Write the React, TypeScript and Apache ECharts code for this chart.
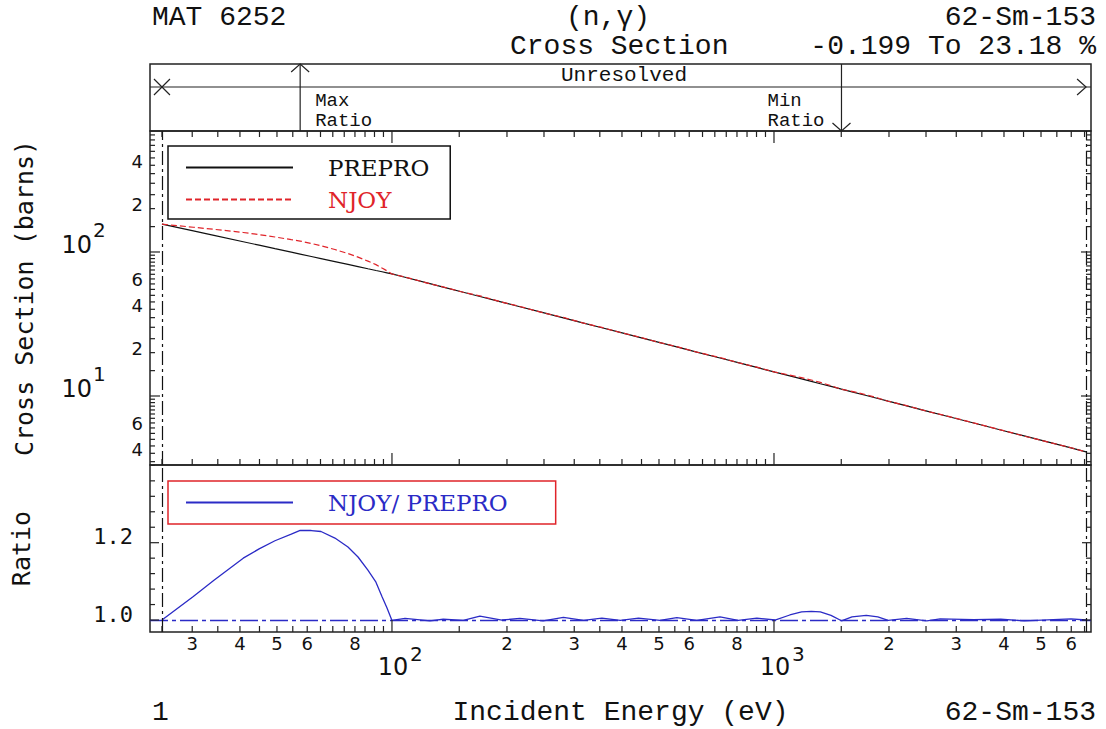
import React, { useEffect, useRef } from 'react';
import * as echarts from 'echarts';

// ---------------- data ----------------
const ENERGY_EV = [
  25, 30.2, 34.2, 40.8, 44.9, 49.4, 54.5, 57.5, 61.5, 65.2, 70.9, 76.7, 81.5, 86.5, 90.8, 94.2, 97.0, 100,
  108.2, 125.7, 136.2, 153.7, 169.9, 193.9, 216.2, 248.7, 281, 317.5, 354.4, 395.8, 442, 503, 556.7, 627.8,
  722.2, 806.2, 901.7, 1006, 1100, 1181, 1252, 1322, 1410, 1502, 1600, 1744, 1870, 1990, 2225, 2513, 2723,
  3333, 3922, 4516, 5990, 6560,
];
const PREPRO_BARNS = [
  156.0, 140.0, 130.3, 117.8, 111.5, 105.5, 99.7, 96.7, 93.05, 90.0, 85.8, 82.0, 79.2, 76.5, 74.4, 72.9, 71.7, 70.4,
  66.74, 60.28, 57.06, 52.56, 49.11, 44.87, 41.68, 37.89, 34.87, 32.09, 29.78, 27.63, 25.63, 23.47, 21.91, 20.19,
  18.35, 17.03, 15.79, 14.65, 13.79, 13.14, 12.63, 12.17, 11.65, 11.15, 10.69, 10.08, 9.61, 9.21, 8.54, 7.86, 7.44,
  6.49, 5.81, 5.28, 4.36, 4.09,
];
const NJOY_BARNS = [
  156.0, 148.5, 143.7, 136.6, 132.0, 127.1, 121.8, 119.1, 114.6, 110.6, 104.0, 97.5, 92.1, 86.4, 81.7, 77.3, 74.0, 70.3,
  67.01, 60.16, 57.17, 52.51, 49.6, 44.87, 41.85, 37.81, 35.11, 32.06, 29.93, 27.6, 25.76, 23.45, 22.04, 20.17,
  18.5, 17.01, 15.87, 14.65, 13.97, 13.42, 12.91, 12.43, 11.79, 11.13, 10.78, 10.2, 9.69, 9.2, 8.57, 7.84, 7.46,
  6.5, 5.82, 5.27, 4.37, 4.09,
];
const RATIO_NJOY_PREPRO = [
  1.0, 1.061, 1.103, 1.16, 1.184, 1.205, 1.222, 1.2318, 1.2315, 1.229, 1.212, 1.189, 1.163, 1.129, 1.098, 1.06, 1.032, 0.999,
  1.004, 0.998, 1.002, 0.999, 1.01, 1.0, 1.004, 0.998, 1.007, 0.999, 1.005, 0.999, 1.005, 0.999, 1.006, 0.999,
  1.008, 0.999, 1.005, 1.0, 1.013, 1.021, 1.0225, 1.021, 1.012, 0.998, 1.008, 1.012, 1.008, 0.999, 1.004, 0.998, 1.003,
  1.001, 1.002, 0.998, 1.003, 1.0,
];

const X_RANGE = [23.26, 6758];
const XS_RANGE = [3.318, 692];
const RATIO_RANGE = [0.969, 1.401];
const URR_RANGE = [25, 6560];
const MAX_RATIO_E = 57.5;
const MIN_RATIO_E = 1502;

const X_MAJOR_TICKS = [100, 1000];
const X_MINOR_TICKS = [
  25, 30, 35, 40, 45, 50, 55, 60, 65, 70, 75, 80, 85, 90, 95,
  150, 200, 250, 300, 350, 400, 450, 500, 550, 600, 650, 700, 750, 800, 850, 900, 950,
  1500, 2000, 2500, 3000, 3500, 4000, 4500, 5000, 5500, 6000, 6500,
];
const X_DIGIT_LABELS = [30, 40, 50, 60, 80, 200, 300, 400, 500, 600, 800, 2000, 3000, 4000, 5000, 6000];
const X_DIGIT_TEXT = ['3', '4', '5', '6', '8', '2', '3', '4', '5', '6', '8', '2', '3', '4', '5', '6'];

const Y_MAJOR_TICKS = [10, 100];
const Y_MINOR_TICKS = [
  3.5, 4, 4.5, 5, 5.5, 6, 6.5, 7, 7.5, 8, 8.5, 9, 9.5,
  15, 20, 25, 30, 35, 40, 45, 50, 55, 60, 65, 70, 75, 80, 85, 90, 95,
  150, 200, 250, 300, 350, 400, 450, 500, 550, 600, 650,
];
const Y_DIGIT_LABELS = [4, 6, 20, 40, 60, 200, 400];
const Y_DIGIT_TEXT = ['4', '6', '2', '4', '6', '2', '4'];

const RATIO_MAJOR_TICKS = [1.0, 1.2];
const RATIO_MINOR_TICKS = [1.04, 1.08, 1.12, 1.16, 1.24, 1.28, 1.32, 1.36, 1.4];
const RATIO_LABELS = ['1.0', '1.2'];

// ---------------- styles ----------------
const FRAME = '#222';
const BLACK = '#111';
const RED = '#e0242a';
const BLUE = '#2b2bc6';
const MONO = 'Liberation Mono';
const SANS = 'DejaVu Sans';
const SANSMONO = 'DejaVu Sans Mono';
const SERIF = 'DejaVu Serif';
const DASHDOT = [14, 4, 3, 4];

function lineEl(x1: number, y1: number, x2: number, y2: number, stroke = FRAME, w = 1.2) {
  return { type: 'line', shape: { x1, y1, x2, y2 }, style: { stroke, lineWidth: w } };
}
function textEl(text: string, x: number, y: number, family: string, size: number, align: string, fill = BLACK) {
  return { type: 'text', x, y, style: { text, fontFamily: family, fontSize: size, fill, align, verticalAlign: 'middle' } };
}

function xTicks(grid: number, values: number[], len: number, sides: string[], yRef: number) {
  return {
    type: 'custom', xAxisIndex: grid, yAxisIndex: grid, silent: true, clip: false, z: 6,
    data: values.map((v) => [v, yRef]),
    renderItem: (params: any, api: any) => {
      const cs = params.coordSys;
      const x = api.coord([api.value(0), api.value(1)])[0];
      const kids: any[] = [];
      if (sides.includes('bottom')) kids.push(lineEl(x, cs.y + cs.height, x, cs.y + cs.height - len));
      if (sides.includes('top')) kids.push(lineEl(x, cs.y, x, cs.y + len));
      return { type: 'group', children: kids };
    },
  };
}
function yTicks(grid: number, values: number[], len: number, xRef: number) {
  return {
    type: 'custom', xAxisIndex: grid, yAxisIndex: grid, silent: true, clip: false, z: 6,
    data: values.map((v) => [xRef, v]),
    renderItem: (params: any, api: any) => {
      const cs = params.coordSys;
      const y = api.coord([api.value(0), api.value(1)])[1];
      return {
        type: 'group',
        children: [lineEl(cs.x, y, cs.x + len, y), lineEl(cs.x + cs.width, y, cs.x + cs.width - len, y)],
      };
    },
  };
}

export default function App() {
  const ref = useRef<HTMLDivElement>(null);
  useEffect(() => {
    if (!ref.current) return;
    const chart = echarts.init(ref.current, null, { renderer: 'svg' });
    const pairs = (ys: number[]) => ENERGY_EV.map((e, i) => [e, ys[i]]);

    const hidden = { axisLine: { show: false }, axisTick: { show: false }, axisLabel: { show: false }, splitLine: { show: false } };

    const option: any = {
      animation: false,
      grid: [
        { left: 150, top: 64, width: 941, height: 67, show: true, borderColor: FRAME, borderWidth: 1.5 },
        { left: 150, top: 131, width: 941, height: 334, show: true, borderColor: FRAME, borderWidth: 1.5 },
        { left: 150, top: 465, width: 941, height: 167, show: true, borderColor: FRAME, borderWidth: 1.5 },
      ],
      xAxis: [0, 1, 2].map((i) => ({
        type: 'log', gridIndex: i, min: X_RANGE[0], max: X_RANGE[1], ...hidden,
        ...(i === 2
          ? { name: 'Incident Energy (eV)', nameLocation: 'middle', nameGap: 66,
              nameTextStyle: { fontFamily: MONO, fontSize: 28, color: BLACK } }
          : {}),
      })),
      yAxis: [
        { type: 'value', gridIndex: 0, min: 0, max: 1, ...hidden },
        { type: 'log', gridIndex: 1, min: XS_RANGE[0], max: XS_RANGE[1], ...hidden,
          name: 'Cross Section (barns)', nameLocation: 'middle', nameGap: 113, nameRotate: 90,
          nameTextStyle: { fontFamily: SANSMONO, fontSize: 25, color: BLACK } },
        { type: 'value', gridIndex: 2, min: RATIO_RANGE[0], max: RATIO_RANGE[1], ...hidden,
          name: 'Ratio', nameLocation: 'middle', nameGap: 116, nameRotate: 90,
          nameTextStyle: { fontFamily: SANSMONO, fontSize: 25, color: BLACK } },
      ],
      legend: [
        {
          data: [{ name: 'PREPRO' }, { name: 'NJOY', textStyle: { color: RED } }],
          orient: 'vertical', left: 168, top: 146, itemWidth: 107, itemHeight: 20, itemGap: 9,
          padding: [10, 21, 8, 17], borderColor: BLACK, borderWidth: 1.5, backgroundColor: '#fff',
          selectedMode: false, itemStyle: { opacity: 0 },
          textStyle: { fontFamily: SERIF, fontSize: 23, color: BLACK, padding: [0, 0, 0, 30] },
        },
        {
          data: [{ name: 'NJOY/ PREPRO' }],
          orient: 'vertical', left: 168, top: 481, itemWidth: 107, itemHeight: 20,
          padding: [10, 48, 10, 17], borderColor: RED, borderWidth: 1.5, backgroundColor: '#fff',
          selectedMode: false, itemStyle: { opacity: 0 },
          textStyle: { fontFamily: SERIF, fontSize: 23, color: BLUE, padding: [0, 0, 0, 30] },
        },
      ],
      graphic: [
        textEl('MAT 6252', 152, 17, MONO, 28, 'left'),
        textEl('(n,γ)', 608, 17, MONO, 28, 'center'),
        textEl('62-Sm-153', 1096, 17, MONO, 28, 'right'),
        textEl('Cross Section', 510, 46, MONO, 28, 'left'),
        textEl('-0.199 To 23.18 %', 1096, 46, MONO, 28, 'right'),
        textEl('1', 152, 712, MONO, 28, 'left'),
        textEl('62-Sm-153', 1096, 712, MONO, 28, 'right'),
      ],
      series: [
        // ---- top band: energy range and max/min ratio markers ----
        {
          type: 'custom', xAxisIndex: 0, yAxisIndex: 0, silent: true, clip: false, z: 6,
          data: [[URR_RANGE[0], 0.5]],
          renderItem: (params: any, api: any) => {
            const cs = params.coordSys;
            const top = cs.y;
            const bottom = cs.y + cs.height;
            const xa = api.coord([URR_RANGE[0], 0.5])[0];
            const xb = api.coord([URR_RANGE[1], 0.5])[0];
            const xMax = api.coord([MAX_RATIO_E, 0.5])[0];
            const xMin = api.coord([MIN_RATIO_E, 0.5])[0];
            const yl = top + 23;
            const st = { stroke: FRAME, lineWidth: 1.2, fill: null };
            return {
              type: 'group',
              children: [
                lineEl(cs.x, yl, cs.x + cs.width, yl),
                lineEl(xa - 8, yl - 8, xa + 8, yl + 8),
                lineEl(xa - 8, yl + 8, xa + 8, yl - 8),
                { type: 'polyline', shape: { points: [[xb - 9, yl - 8], [xb, yl], [xb - 9, yl + 8]] }, style: st },
                lineEl(xMax, bottom, xMax, top),
                { type: 'polyline', shape: { points: [[xMax - 9, top + 8], [xMax, top], [xMax + 9, top + 8]] }, style: st },
                lineEl(xMin, top, xMin, bottom),
                { type: 'polyline', shape: { points: [[xMin - 9, bottom - 8], [xMin, bottom], [xMin + 9, bottom - 8]] }, style: st },
                textEl('Unresolved', (xa + xb) / 2, top + 11, MONO, 21, 'center'),
                textEl('Max', xMax + 15, top + 37, MONO, 19, 'left'),
                textEl('Ratio', xMax + 15, top + 57, MONO, 19, 'left'),
                textEl('Min', xMin - 74, top + 37, MONO, 19, 'left'),
                textEl('Ratio', xMin - 74, top + 57, MONO, 19, 'left'),
              ],
            };
          },
        },
        // ---- main panel ticks and labels ----
        xTicks(1, X_MAJOR_TICKS, 12, ['top', 'bottom'], 10),
        xTicks(1, X_MINOR_TICKS, 6, ['top', 'bottom'], 10),
        yTicks(1, Y_MAJOR_TICKS, 10, 100),
        yTicks(1, Y_MINOR_TICKS, 5, 100),
        {
          type: 'custom', xAxisIndex: 1, yAxisIndex: 1, silent: true, clip: false, z: 6,
          data: Y_DIGIT_LABELS.map((v) => [100, v]),
          renderItem: (params: any, api: any) => {
            const cs = params.coordSys;
            const y = api.coord([api.value(0), api.value(1)])[1];
            return textEl(Y_DIGIT_TEXT[params.dataIndex], cs.x - 7, y - 4, SANS, 18, 'right');
          },
        },
        {
          type: 'custom', xAxisIndex: 1, yAxisIndex: 1, silent: true, clip: false, z: 6,
          data: Y_MAJOR_TICKS.map((v) => [100, v]),
          renderItem: (params: any, api: any) => {
            const cs = params.coordSys;
            const v = api.value(1);
            const y = api.coord([api.value(0), v])[1];
            return {
              type: 'group',
              children: [
                textEl('10', cs.x - 58, y - 7, SANS, 24, 'right'),
                textEl(String(Math.round(Math.log10(v))), cs.x - 57, y - 22, SANS, 20, 'left'),
              ],
            };
          },
        },
        {
          name: 'PREPRO', type: 'line', xAxisIndex: 1, yAxisIndex: 1, data: pairs(PREPRO_BARNS),
          symbol: 'none', color: BLACK, lineStyle: { color: BLACK, width: 1.2 }, z: 3,
          markLine: {
            silent: true, symbol: ['none', 'none'], label: { show: false },
            lineStyle: { color: BLACK, type: DASHDOT, width: 1.2 },
            data: [{ xAxis: URR_RANGE[0] }, { xAxis: URR_RANGE[1] }],
          },
        },
        {
          name: 'NJOY', type: 'line', xAxisIndex: 1, yAxisIndex: 1, data: pairs(NJOY_BARNS),
          symbol: 'none', color: RED, lineStyle: { color: RED, width: 1.2, type: [6, 3] }, z: 4,
        },
        // ---- ratio panel ticks and labels ----
        xTicks(2, X_MAJOR_TICKS, 12, ['bottom'], 1),
        xTicks(2, X_MINOR_TICKS, 6, ['bottom'], 1),
        yTicks(2, RATIO_MAJOR_TICKS, 9, 100),
        yTicks(2, RATIO_MINOR_TICKS, 5, 100),
        {
          type: 'custom', xAxisIndex: 2, yAxisIndex: 2, silent: true, clip: false, z: 6,
          data: X_DIGIT_LABELS.map((v) => [v, 1]),
          renderItem: (params: any, api: any) => {
            const cs = params.coordSys;
            const x = api.coord([api.value(0), api.value(1)])[0];
            return textEl(X_DIGIT_TEXT[params.dataIndex], x, cs.y + cs.height + 11, SANS, 18, 'center');
          },
        },
        {
          type: 'custom', xAxisIndex: 2, yAxisIndex: 2, silent: true, clip: false, z: 6,
          data: X_MAJOR_TICKS.map((v) => [v, 1]),
          renderItem: (params: any, api: any) => {
            const cs = params.coordSys;
            const v = api.value(0);
            const x = api.coord([v, api.value(1)])[0];
            const b = cs.y + cs.height;
            return {
              type: 'group',
              children: [
                textEl('10', x + 1, b + 35, SANS, 24, 'center'),
                textEl(String(Math.round(Math.log10(v))), x + 18, b + 22, SANS, 20, 'left'),
              ],
            };
          },
        },
        {
          type: 'custom', xAxisIndex: 2, yAxisIndex: 2, silent: true, clip: false, z: 6,
          data: RATIO_MAJOR_TICKS.map((v) => [100, v]),
          renderItem: (params: any, api: any) => {
            const cs = params.coordSys;
            const y = api.coord([api.value(0), api.value(1)])[1];
            return textEl(RATIO_LABELS[params.dataIndex], cs.x - 17, y - 6, SANSMONO, 22, 'right');
          },
        },
        {
          name: 'NJOY/ PREPRO', type: 'line', xAxisIndex: 2, yAxisIndex: 2, data: pairs(RATIO_NJOY_PREPRO),
          symbol: 'none', color: BLUE, lineStyle: { color: BLUE, width: 1.3 }, z: 4,
          markLine: {
            silent: true, symbol: ['none', 'none'], label: { show: false },
            data: [
              { yAxis: 1.0, lineStyle: { color: BLUE, type: [18, 4, 4, 4], width: 1.3 } },
              { xAxis: URR_RANGE[0], lineStyle: { color: BLACK, type: DASHDOT, width: 1.2 } },
              { xAxis: URR_RANGE[1], lineStyle: { color: BLACK, type: DASHDOT, width: 1.2 } },
            ],
          },
        },
      ],
    };
    chart.setOption(option);
    return () => chart.dispose();
  }, []);
  return <div ref={ref} style={{ position: 'absolute', left: 0, top: 0, width: 1106, height: 729, background: '#fff' }} />;
}
